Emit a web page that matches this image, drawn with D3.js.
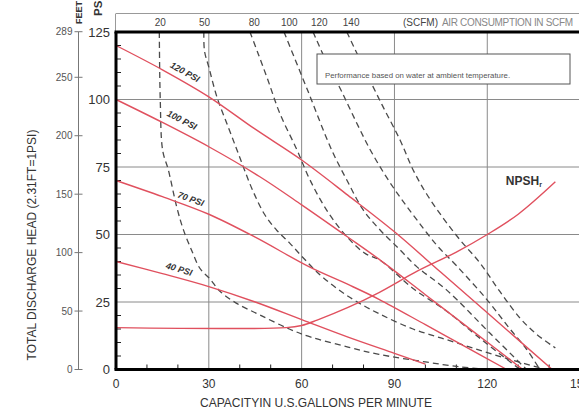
<!DOCTYPE html>
<html><head><meta charset="utf-8">
<script src="https://cdn.jsdelivr.net/npm/d3@7"></script>
<style>
html,body{margin:0;padding:0;background:#fff;}
svg{display:block;font-family:"Liberation Sans",Arial,sans-serif;}
</style></head>
<body><svg id="c" width="579" height="412"></svg>
<script>
// ---- data ----
const gpmTicks = [0, 30, 60, 90, 120, 150];
const psiTicks = [0, 25, 50, 75, 100, 125];
const feetTicks = [0, 50, 100, 150, 200, 250, 289];
const scfmLabels = ["20", "50", "80", "100", "120", "140"];
const scfmTopGpm = [14.3, 28.6, 44.7, 56, 65.7, 76];

const psi120 = [[0,120],[15,111],[30,101],[45,89],[60,77.6],[75,64.5],[90,51],[105,36],[120,21],[141,0]];
const psi100 = [[0,100],[15,91.5],[30,82.5],[46.5,71.4],[60,61],[75,49],[85.3,40.6],[100,27.7],[115,14.5],[131.5,0]];
const psi70  = [[0,70],[15,64],[30,57.5],[45,49],[62.5,38],[75,31.5],[85,26],[100,16.6],[112,9],[126.3,0]];
const psi40  = [[0,40],[15,35.5],[30,30.7],[45,25],[60.4,18.3],[75,12],[90,6],[100,2]];
const npsh   = [[0,15.5],[55,15.5],[60,16.3],[65,18.3],[75,23],[85,28.5],[97.5,36.5],[110,43.5],[120,50],[130,57.5],[142,69.5]];

const air20  = [[14,125],[14.3,100],[15.1,81],[16.9,74],[19.6,60.3],[21.8,51.7],[24.5,44],[27.1,37.5],[30.4,33.5],[33.6,29],[39,24.5],[46.5,20.2],[56,15],[63,12],[75,8.3],[85,5.6],[100,2.8],[111,1],[120,0]];
const air50  = [[28.4,125],[28.6,118],[30,112],[32.6,101],[36.2,90],[39.1,81.3],[41.5,74],[44.3,66],[48,57.5],[52,51.5],[56,47],[60.4,41.5],[66,35],[72,29.5],[78,25],[85.3,20.5],[96,15],[107,11],[118,7],[128,3.5],[138,0.3]];
const air80  = [[43.3,125],[46.1,116.5],[49.1,107.2],[52.9,95],[58.5,81.3],[62.7,70.2],[68.5,58.3],[75,48.7],[80.5,43],[85.3,40.5],[96,30],[107,21.5],[115,14],[121,8.5],[130.6,0]];
const air100 = [[54.3,125],[62,103.2],[69.7,81.3],[74.6,70.2],[79.9,59.1],[85.5,51.5],[91.8,44.3],[97.2,38.1],[106.9,29.4],[120.9,13.4],[132.7,0]];
const air120 = [[63.7,125],[68,114],[72.7,103.5],[77.5,92],[82.1,81.5],[87,72],[92,63.5],[97.2,55.5],[103.7,46],[110,38.5],[119.8,26],[127,15.5],[132.7,7.5],[137,0]];
const air140 = [[74.6,125],[80,112],[86,98],[91.8,85],[96,74],[100.4,65],[105.8,56],[111.2,48],[117.6,39.5],[124,29],[130.6,19],[136,13],[142,8]];

const headLabels = [["120 PSI",22.3,110.2,29],["100 PSI",21.3,92.4,27],["70 PSI",24.2,63.2,20],["40 PSI",20.4,37.2,17]];

// ---- layout ----
const svg = d3.select("#c");
const x = d3.scaleLinear().domain([0,150]).range([116, 116 + 150*3.094]);
const y = d3.scaleLinear().domain([0,125]).range([369.5, 32]);
const yFeet = d3.scaleLinear().domain([0,125*2.31]).range([369.5, 32]);
const red = "#e0505e", dash = "#4a4a4a", grid = "#8a8a8a";

// grid
svg.append("g").selectAll("line").data(gpmTicks.filter(d=>d>0)).join("line")
  .attr("x1",d=>x(d)).attr("x2",d=>x(d)).attr("y1",y(125)).attr("y2",y(0))
  .attr("stroke",grid).attr("stroke-width",1);
svg.append("g").selectAll("line").data(psiTicks.filter(d=>d>0&&d<125)).join("line")
  .attr("x1",x(0)).attr("x2",579).attr("y1",d=>y(d)).attr("y2",d=>y(d))
  .attr("stroke",grid).attr("stroke-width",1);

// top SCFM strip
svg.append("line").attr("x1",x(0)).attr("x2",579).attr("y1",13.5).attr("y2",13.5).attr("stroke","#999").attr("stroke-width",1);
svg.append("line").attr("x1",x(0)-0.5).attr("x2",x(0)-0.5).attr("y1",13.5).attr("y2",y(125)).attr("stroke","#999").attr("stroke-width",1);
svg.append("g").selectAll("text").data(scfmLabels).join("text")
  .attr("x",(d,i)=>x(scfmTopGpm[i])).attr("y",26).attr("text-anchor","middle")
  .attr("font-size",10).attr("fill","#444").text(d=>d);
svg.append("text").attr("x",403).attr("y",26).attr("font-size",10).attr("fill","#444")
  .text("(SCFM)");
svg.append("text").attr("x",442).attr("y",26).attr("font-size",10).attr("fill","#888")
  .attr("textLength",131).text("AIR CONSUMPTION IN SCFM");

// minor ticks
svg.append("g").selectAll("line").data(d3.range(5,125,5).filter(d=>d%25)).join("line")
  .attr("x1",x(0)).attr("x2",x(0)+5).attr("y1",d=>y(d)).attr("y2",d=>y(d))
  .attr("stroke","#222").attr("stroke-width",1);
svg.append("g").selectAll("line").data(d3.range(10,150,10).filter(d=>d%30)).join("line")
  .attr("x1",d=>x(d)).attr("x2",d=>x(d)).attr("y1",y(0)).attr("y2",y(0)-5)
  .attr("stroke","#222").attr("stroke-width",1);

// curves
const line = d3.line().x(d=>x(d[0])).y(d=>y(d[1])).curve(d3.curveCatmullRom.alpha(0.5));
const gAir = svg.append("g");
[air20, air50, air80, air100, air120, air140].forEach(s=>{
  gAir.append("path").attr("d",line(s)).attr("fill","none").attr("stroke",dash)
    .attr("stroke-width",1.3).attr("stroke-dasharray","6,4");
});
// note box
svg.append("rect").attr("x",317).attr("y",54).attr("width",253).attr("height",30)
  .attr("fill","#fff").attr("stroke","#555").attr("stroke-width",1);
svg.append("text").attr("x",325).attr("y",78).attr("font-size",7.8).attr("fill","#555")
  .text("Performance based on water at ambient temperature.");

const gRed = svg.append("g");
[psi120, psi100, psi70, psi40, npsh].forEach(s=>{
  gRed.append("path").attr("d",line(s)).attr("fill","none").attr("stroke",red).attr("stroke-width",1.4);
});

// curve labels
svg.append("g").selectAll("text").data(headLabels).join("text")
  .attr("transform",d=>`translate(${x(d[1])},${y(d[2])}) rotate(${d[3]})`)
  .attr("text-anchor","middle").attr("dy","0.35em")
  .attr("font-size",9).attr("font-weight","bold").attr("font-style","italic").attr("fill","#333")
  .text(d=>d[0]);
const np = svg.append("text").attr("x",x(126)).attr("y",y(68.3)).attr("font-size",12)
  .attr("font-weight","bold").attr("fill","#333");
np.append("tspan").text("NPSH");
np.append("tspan").attr("font-size",7).attr("dy",2).text("r");

// frame
svg.append("line").attr("x1",x(0)-1.5).attr("x2",579).attr("y1",y(125)).attr("y2",y(125)).attr("stroke","#000").attr("stroke-width",3);
svg.append("line").attr("x1",x(0)-1.5).attr("x2",579).attr("y1",y(0)).attr("y2",y(0)).attr("stroke","#000").attr("stroke-width",3);
svg.append("line").attr("x1",x(0)).attr("x2",x(0)).attr("y1",y(125)).attr("y2",y(0)).attr("stroke","#000").attr("stroke-width",3);

// x axis labels
svg.append("g").selectAll("text").data(gpmTicks).join("text")
  .attr("x",d=>x(d)).attr("y",388).attr("text-anchor","middle").attr("font-size",12).attr("fill","#333")
  .text(d=>d);
svg.append("text").attr("x",316).attr("y",407).attr("text-anchor","middle").attr("font-size",12).attr("fill","#333")
  .text("CAPACITYIN U.S.GALLONS PER MINUTE");

// psi axis labels
svg.append("g").selectAll("text").data(psiTicks).join("text")
  .attr("x",110).attr("y",d=>y(d)).attr("dy","0.35em").attr("text-anchor","end").attr("font-size",13).attr("fill","#333")
  .text(d=>d);

// feet axis
const fx = 78.5;
svg.append("line").attr("x1",fx).attr("x2",fx).attr("y1",y(125)).attr("y2",y(0)).attr("stroke","#777").attr("stroke-width",1);
svg.append("g").selectAll("line").data(feetTicks).join("line")
  .attr("x1",fx-4).attr("x2",fx+4).attr("y1",d=>yFeet(d)).attr("y2",d=>yFeet(d)).attr("stroke","#777");
svg.append("g").selectAll("text").data(feetTicks).join("text")
  .attr("x",fx-6).attr("y",d=>yFeet(d)).attr("dy","0.35em").attr("text-anchor","end").attr("font-size",10).attr("fill","#555")
  .text(d=>d);

// rotated headers
svg.append("text").attr("transform","translate(81.5,24) rotate(-90)").attr("font-size",9).attr("font-weight","bold").attr("fill","#333").text("FEET");
svg.append("text").attr("transform","translate(101.5,16) rotate(-90)").attr("font-size",11.5).attr("font-weight","bold").attr("fill","#333").text("PSI");
svg.append("text").attr("transform","translate(36,245) rotate(-90)").attr("text-anchor","middle").attr("font-size",12).attr("fill","#333")
  .text("TOTAL DISCHARGE HEAD (2.31FT=1PSI)");
</script></body></html>
